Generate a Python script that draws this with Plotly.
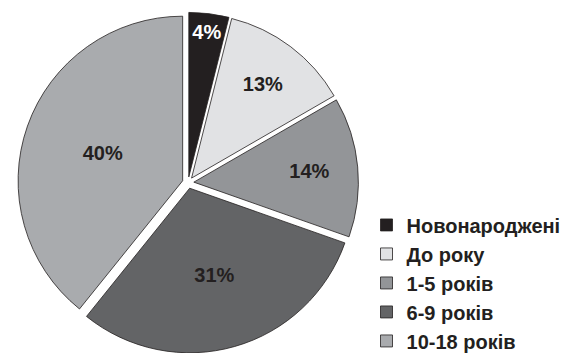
import plotly.graph_objects as go

categories = ["Новонароджені", "До року", "1-5 років", "6-9 років", "10-18 років"]
values = [4, 13, 14, 31, 40]
value_labels = ["4%", "13%", "14%", "31%", "40%"]
colors = ["#231f20", "#e1e2e4", "#939598", "#636466", "#a9abae"]
label_colors = ["#ffffff", "#231f20", "#231f20", "#231f20", "#231f20"]

fig = go.Figure(
    go.Pie(
        labels=categories,
        values=values,
        text=value_labels,
        texttemplate="%{text}",
        textposition="inside",
        insidetextorientation="horizontal",
        sort=False,
        direction="clockwise",
        rotation=0,
        pull=0.035,
        marker=dict(colors=colors, line=dict(color="#231f20", width=0.8)),
        textfont=dict(family="Liberation Sans", size=20, color=label_colors, weight="bold"),
        domain=dict(x=[0, 0.66], y=[0, 0.965]),
        hoverinfo="label+text",
    )
)

fig.update_layout(
    width=570,
    height=353,
    margin=dict(l=0, r=0, t=0, b=0, autoexpand=False),
    paper_bgcolor="white",
    plot_bgcolor="white",
    uniformtext=dict(minsize=20, mode="show"),
    legend=dict(
        x=0.643,
        y=0.418,
        xanchor="left",
        yanchor="top",
        font=dict(family="Liberation Sans", size=20, color="#231f20", weight="bold"),
        traceorder="normal",
        bgcolor="rgba(0,0,0,0)",
    ),
)

fig.write_html("out.html")
